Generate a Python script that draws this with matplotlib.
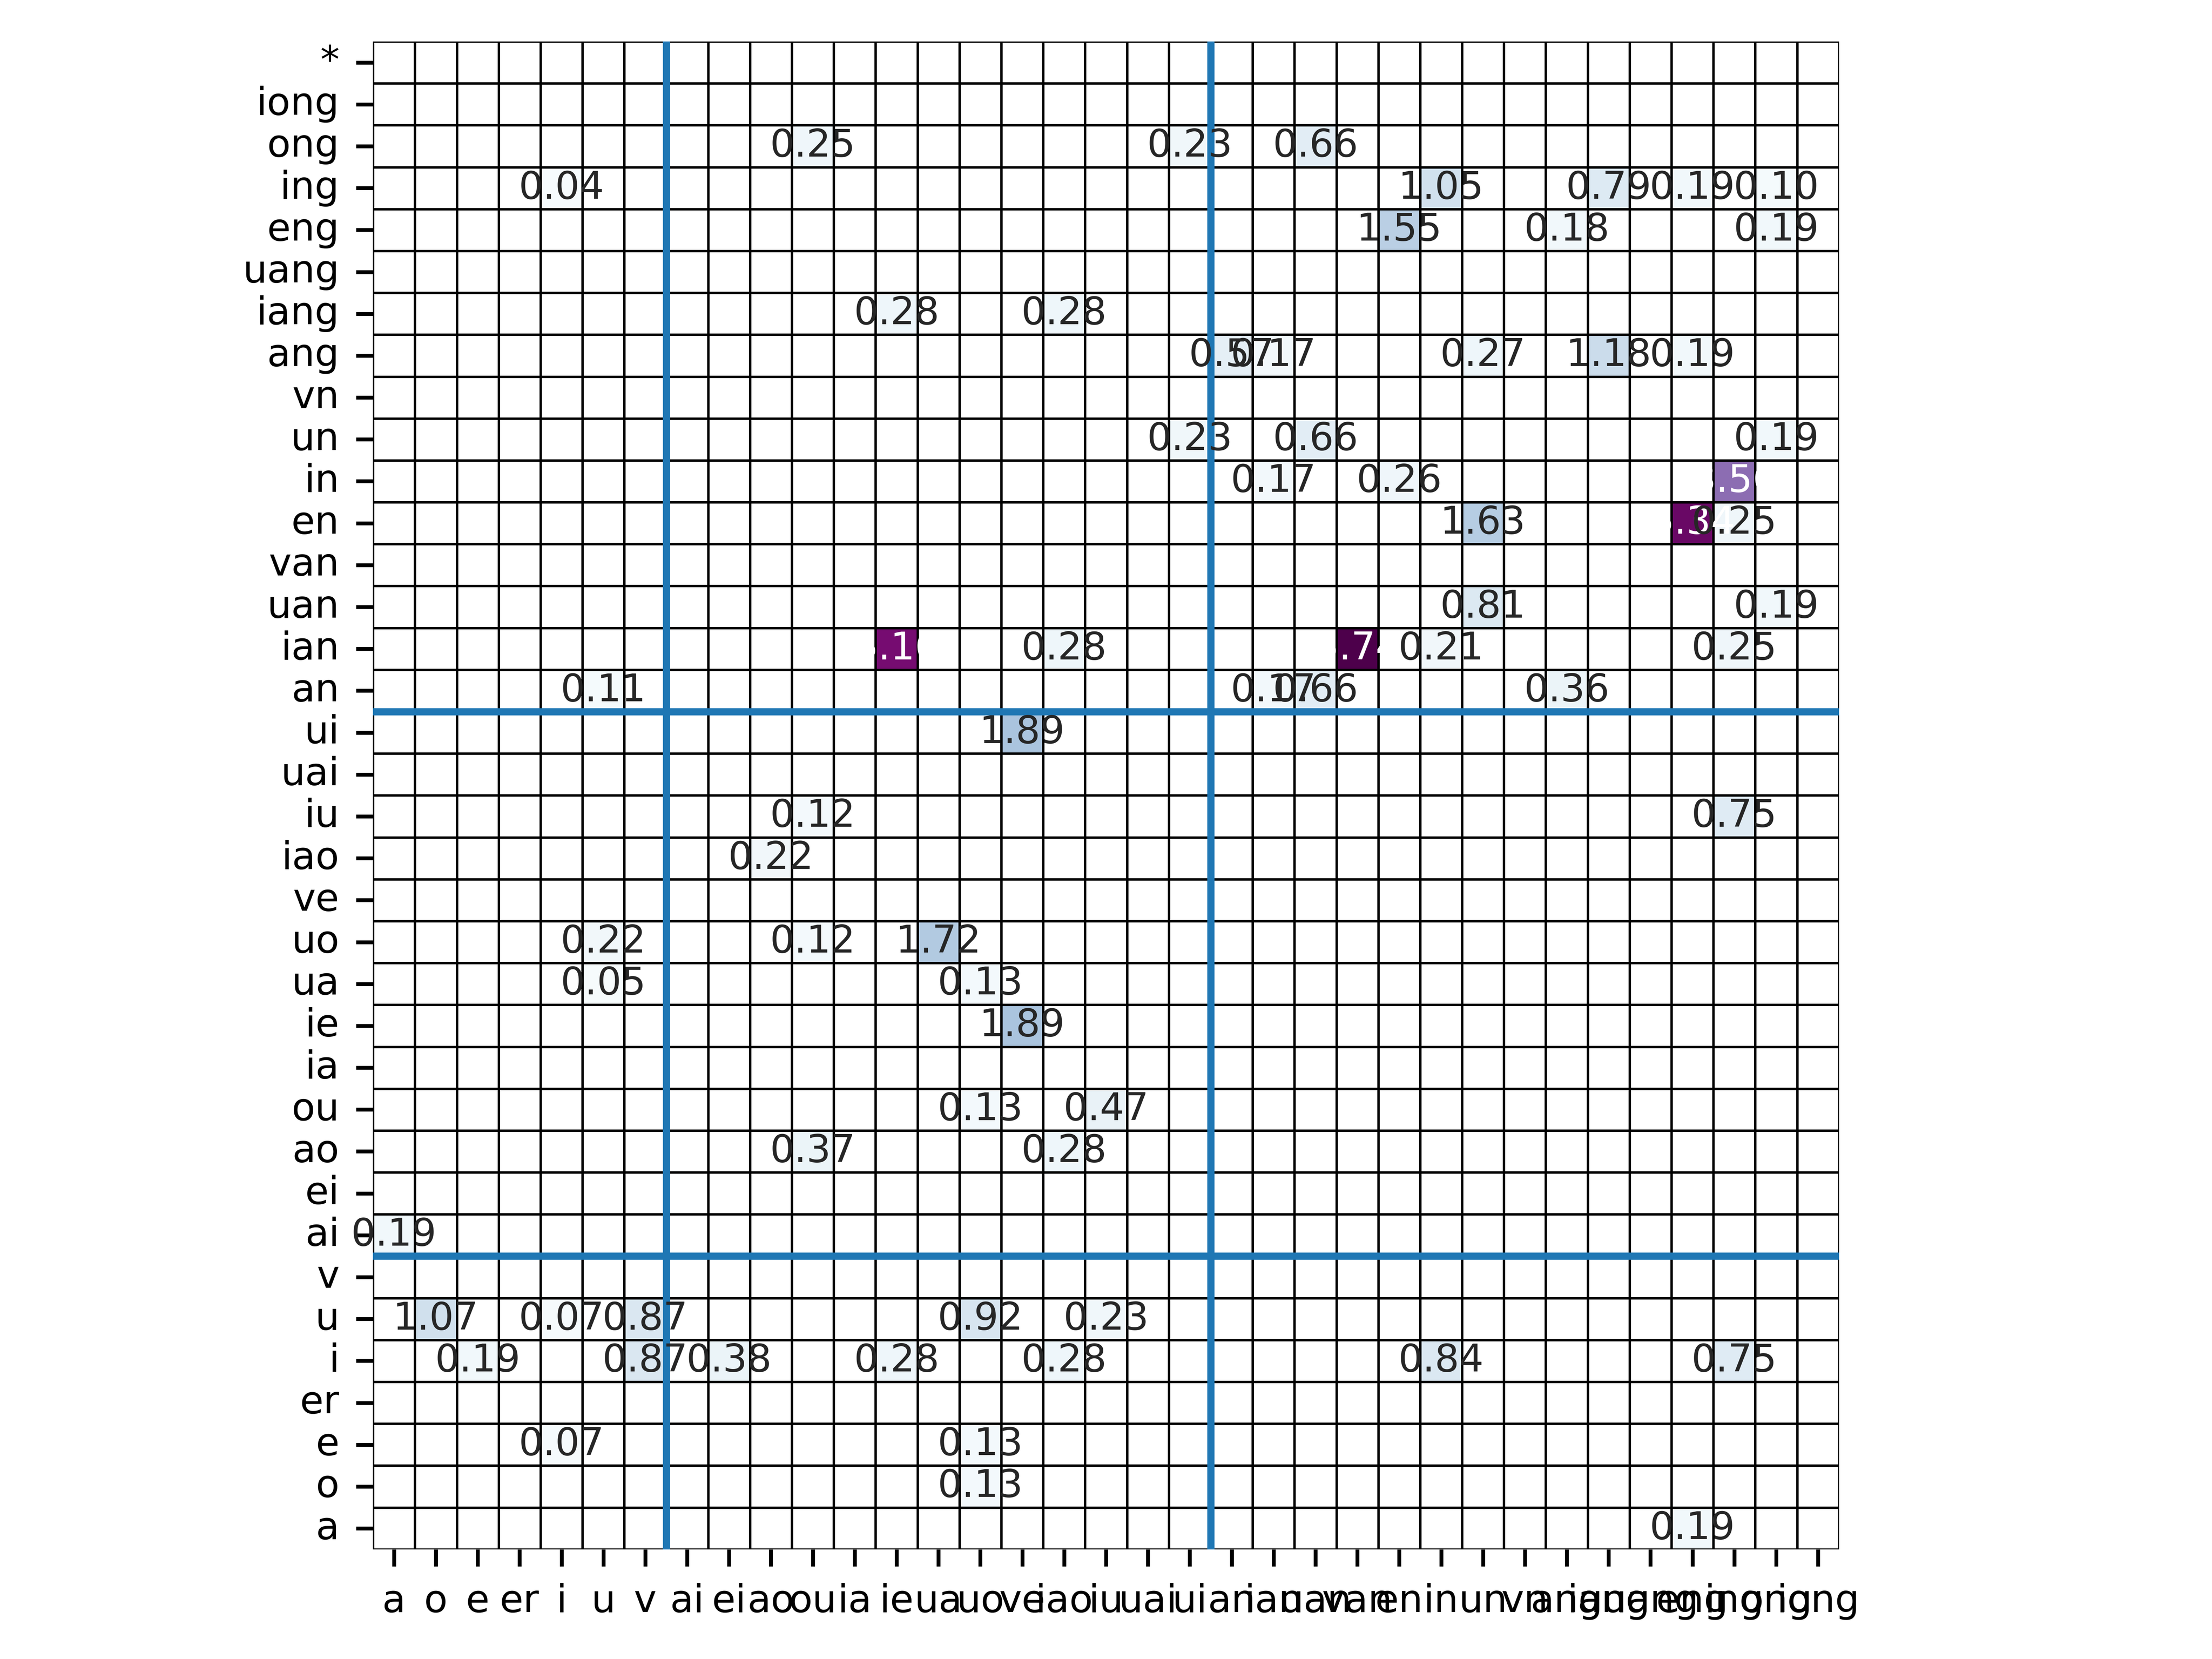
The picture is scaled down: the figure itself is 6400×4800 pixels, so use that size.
import numpy as np
import matplotlib
matplotlib.use('Agg')
import matplotlib.pyplot as plt
import seaborn as sns

plt.rcParams['font.size'] = 8

# pinyin finals, columns = predicted, rows = true (+ '*')
finals = ['a', 'o', 'e', 'er', 'i', 'u', 'v', 'ai', 'ei', 'ao', 'ou', 'ia', 'ie', 'ua', 'uo', 've',
          'iao', 'iu', 'uai', 'ui', 'an', 'ian', 'uan', 'van', 'en', 'in', 'un', 'vn', 'ang', 'iang',
          'uang', 'eng', 'ing', 'ong', 'iong']
rows = finals + ['*']

# non zero cells (confusion rate in %)
true_final = ['ong', 'ong', 'ong',
              'ing', 'ing', 'ing', 'ing', 'ing',
              'eng', 'eng', 'eng',
              'iang', 'iang',
              'ang', 'ang', 'ang', 'ang', 'ang',
              'un', 'un', 'un',
              'in', 'in', 'in',
              'en', 'en', 'en',
              'uan', 'uan',
              'ian', 'ian', 'ian', 'ian', 'ian',
              'an', 'an', 'an', 'an',
              'ui',
              'iu', 'iu',
              'iao',
              'uo', 'uo', 'uo',
              'ua', 'ua',
              'ie',
              'ou', 'ou',
              'ao', 'ao',
              'ai',
              'u', 'u', 'u', 'u', 'u',
              'i', 'i', 'i', 'i', 'i', 'i', 'i',
              'e', 'e',
              'o',
              'a']
pred_final = ['ou', 'ui', 'uan',
              'i', 'in', 'iang', 'eng', 'ong',
              'en', 'ang', 'ong',
              'ie', 'iao',
              'an', 'ian', 'un', 'iang', 'eng',
              'ui', 'uan', 'ong',
              'ian', 'en', 'ing',
              'un', 'eng', 'ing',
              'un', 'ong',
              'ie', 'iao', 'van', 'in', 'ing',
              'u', 'ian', 'uan', 'ang',
              've',
              'ou', 'ing',
              'ao',
              'u', 'ou', 'ua',
              'u', 'uo',
              've',
              'uo', 'iu',
              'ou', 'iao',
              'a',
              'o', 'i', 'v', 'uo', 'iu',
              'e', 'v', 'ei', 'ie', 'iao', 'in', 'ing',
              'i', 'uo',
              'uo',
              'eng']
rate = [0.25, 0.23, 0.66,
        0.04, 1.05, 0.79, 0.19, 0.10,
        1.55, 0.18, 0.19,
        0.28, 0.28,
        0.57, 0.17, 0.27, 1.18, 0.19,
        0.23, 0.66, 0.19,
        0.17, 0.26, 3.56,
        1.63, 5.34, 0.25,
        0.81, 0.19,
        5.16, 0.28, 5.74, 0.21, 0.25,
        0.11, 0.17, 0.66, 0.36,
        1.89,
        0.12, 0.75,
        0.22,
        0.22, 0.12, 1.72,
        0.05, 0.13,
        1.89,
        0.13, 0.47,
        0.37, 0.28,
        0.19,
        1.07, 0.07, 0.87, 0.92, 0.23,
        0.19, 0.87, 0.38, 0.28, 0.28, 0.84, 0.75,
        0.07, 0.13,
        0.13,
        0.19]

mat = np.zeros((len(rows), len(finals)))
for t, p, r in zip(true_final, pred_final, rate):
    mat[rows.index(t), finals.index(p)] = r

labels = np.array([['%.2f' % v if v > 0 else '' for v in row] for row in mat])

# empty cells stay white
cmap = plt.get_cmap('BuPu').copy()
cmap.set_under('white')

fig, ax = plt.subplots(figsize=(6.4, 4.8))
sns.heatmap(mat, annot=labels, fmt='', cmap=cmap, vmin=1e-6, vmax=mat.max(), cbar=False, square=True,
            linewidths=0.5, linecolor='black',
            xticklabels=finals, yticklabels=rows, ax=ax)
ax.invert_yaxis()
ax.set_xticklabels(finals, rotation=0)
ax.set_yticklabels(rows, rotation=0)

# group borders: simple / compound / nasal finals
for b in [7, 20]:
    ax.axvline(b)
    ax.axhline(b)

plt.tight_layout()
plt.savefig('out.png', dpi=1000)
